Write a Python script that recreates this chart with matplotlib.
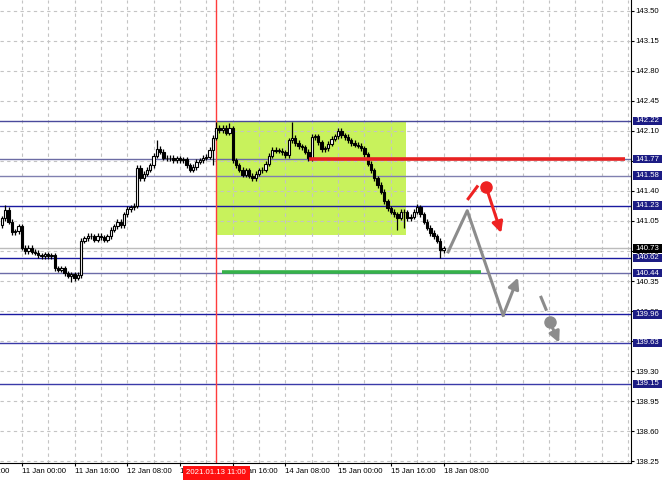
import matplotlib
matplotlib.use('Agg')
import matplotlib.pyplot as plt
import matplotlib.transforms as mtrans
from matplotlib.patches import Rectangle

plt.rcParams['font.family'] = ['Liberation Sans', 'DejaVu Sans']

# hourly bars, index 0 = 11 Jan 00:00
bars = list(range(-6, 129))
first_open = 141.00
closes = [
    141.08, 141.18, 141.04, 140.92, 140.93, 140.99, 140.74, 140.70, 140.74, 140.69,
    140.68, 140.65, 140.64, 140.66, 140.64, 140.65, 140.50, 140.48, 140.50, 140.44,
    140.41, 140.43, 140.39, 140.42, 140.82, 140.85, 140.88, 140.87, 140.83, 140.88,
    140.86, 140.83, 140.87, 140.95, 140.99, 141.04, 141.00, 141.13, 141.19, 141.21,
    141.23, 141.67, 141.55, 141.60, 141.65, 141.70, 141.81, 141.89, 141.86, 141.79,
    141.78, 141.79, 141.76, 141.78, 141.76, 141.77, 141.70, 141.65, 141.68, 141.74,
    141.76, 141.79, 141.80, 141.88, 142.02, 142.14, 142.11, 142.14, 142.08, 142.13,
    141.76, 141.70, 141.65, 141.59, 141.64, 141.58, 141.55, 141.60, 141.64, 141.65,
    141.72, 141.81, 141.88, 141.87, 141.87, 141.85, 141.82, 141.99, 142.02, 141.96,
    141.92, 141.91, 141.86, 141.78, 142.03, 142.04, 141.97, 141.89, 141.90, 141.95,
    142.01, 142.04, 142.10, 142.05, 142.03, 141.99, 141.96, 141.94, 141.93, 141.90,
    141.83, 141.72, 141.64, 141.55, 141.47, 141.39, 141.28, 141.20, 141.16, 141.13,
    141.09, 141.16, 141.15, 141.08, 141.10, 141.16, 141.21, 141.13, 141.04, 140.97,
    140.91, 140.87, 140.82, 140.71, 140.73,
]
high_spikes = {-5: 141.24, 41: 141.99, 59: 142.20, 63: 142.19, 82: 142.20, 96: 142.14, 120: 141.25}
low_spikes = {15: 140.34, 16: 140.35, 58: 141.70, 114: 140.95, 116: 140.97, 127: 140.62}

levels = [142.22, 141.77, 141.58, 141.23, 140.62, 140.44, 139.96, 139.63, 139.15]
level_colors = ['#4a4a9c', '#6c6ca4', '#8080b0', '#1a1aa0', '#1a1aa0',
                '#6c6ca8', '#1a1aa0', '#3a3aa8', '#3a3aa8']
current_price = 140.73

price_ticks = [143.50, 143.15, 142.80, 142.45, 142.10, 141.75, 141.40, 141.05,
               140.70, 140.35, 140.00, 139.65, 139.30, 138.95, 138.60, 138.25]
time_ticks = [0, 16, 32, 48, 64, 80, 96, 112, 128]
time_labels = ['11 Jan 00:00', '11 Jan 16:00', '12 Jan 08:00',
               '13 Jan 00:00', '13 Jan 16:00', '14 Jan 08:00', '15 Jan 00:00',
               '15 Jan 16:00', '18 Jan 08:00']
cut_tick = -16
cut_label = '8 Jan 08:00'
marker_bar = 59
marker_label = '2021.01.13 11:00'

# analysis drawings (bar index, price)
box_x = [59, 116.6]
box_y = [140.89, 142.22]
red_level_x = [87.3, 183.1]
red_level_y = 141.77
green_level_x = [60.8, 139.4]
green_level_y = 140.46
gray_path_x = [129.4, 135.2, 146.1, 150.6]
gray_path_y = [140.69, 141.17, 139.95, 140.39]
red_dash_x = [135.5, 138.2]
red_dash_y = [141.31, 141.45]
red_arrow_x = [140.9, 145.5]
red_arrow_y = [141.45, 140.91]
gray_dash_x = [157.6, 159.1]
gray_dash_y = [140.16, 140.02]
gray_arrow_x = [160.3, 163.1]
gray_arrow_y = [139.87, 139.63]

fig = plt.figure(figsize=(6.65, 4.82), dpi=100)
ax = fig.add_axes([0, 19 / 482, 631 / 665, 463 / 482])

# grid
for gx in range(-8, 186, 8):
    ax.axvline(gx, color='#c4c4c4', lw=0.8, ls=(0, (3, 3)), zorder=1)
for gy in price_ticks:
    ax.axhline(gy, color='#c4c4c4', lw=0.8, ls=(0, (3, 3)), zorder=1)

ax.add_patch(Rectangle((box_x[0], box_y[0]), box_x[1] - box_x[0], box_y[1] - box_y[0],
                       facecolor='#c8f25c', edgecolor='none', zorder=0.5))

ax.axhline(current_price, color='#bcbcbc', lw=1, zorder=1.5)
for lv, lc in zip(levels, level_colors):
    ax.axhline(lv, color=lc, lw=1, zorder=2)

ax.axvline(marker_bar, color='#ff3c3c', lw=1, zorder=2.5)

# candles
opens = [first_open] + closes[:-1]
for b, o, c in zip(bars, opens, closes):
    hi = high_spikes.get(b, max(o, c) + 0.03)
    lo = low_spikes.get(b, min(o, c) - 0.03)
    ax.vlines(b, lo, hi, color='black', lw=0.9, zorder=3)
    bottom = min(o, c)
    h = max(abs(c - o), 0.008)
    face = 'white' if c >= o else 'black'
    ax.bar(b, h, bottom=bottom, width=0.7, facecolor=face, edgecolor='black',
           linewidth=0.8, zorder=3.5)

# drawings
ax.plot(red_level_x, [red_level_y] * 2, color='#e82222', lw=2.6, zorder=4, solid_capstyle='butt')
ax.plot(green_level_x, [green_level_y] * 2, color='#36b24a', lw=2.6, zorder=4, solid_capstyle='butt')

arrow_kw = dict(arrowstyle='-|>', lw=2.2, mutation_scale=16, shrinkA=0, shrinkB=0)

ax.plot(gray_path_x[:3], gray_path_y[:3], color='#8c8c8c', lw=2.2, zorder=4)
ax.annotate('', xy=(gray_path_x[3], gray_path_y[3]), xytext=(gray_path_x[2], gray_path_y[2]),
            arrowprops=dict(color='#8c8c8c', **arrow_kw), zorder=4)

ax.plot(red_dash_x, red_dash_y, color='#ee2222', lw=2.2, zorder=4)
ax.plot(red_arrow_x[0], red_arrow_y[0], 'o', color='#ee2222', ms=8, zorder=4)
ax.annotate('', xy=(red_arrow_x[1], red_arrow_y[1]), xytext=(red_arrow_x[0], red_arrow_y[0]),
            arrowprops=dict(color='#ee2222', **arrow_kw), zorder=4)

ax.plot(gray_dash_x, gray_dash_y, color='#8c8c8c', lw=2.2, zorder=4)
ax.plot(gray_arrow_x[0], gray_arrow_y[0], 'o', color='#8c8c8c', ms=8, zorder=4)
ax.annotate('', xy=(gray_arrow_x[1], gray_arrow_y[1]), xytext=(gray_arrow_x[0], gray_arrow_y[0]),
            arrowprops=dict(color='#8c8c8c', **arrow_kw), zorder=4)

# axes styling
for s in ['top', 'left']:
    ax.spines[s].set_visible(False)
ax.spines['right'].set_color('black')
ax.spines['bottom'].set_color('black')
ax.yaxis.tick_right()
ax.set_yticks(price_ticks)
ax.set_yticklabels(['%.2f' % t for t in price_ticks])
ax.tick_params(axis='y', labelsize=5.6, length=2.2, pad=1.2, colors='black')
ax.set_xticks(time_ticks)
ax.set_xticklabels(time_labels, ha='left')
ax.tick_params(axis='x', labelsize=5.6, length=2.2, pad=1.5)
ax.set_xlim(-6.62, 184.9)
ax.set_ylim(138.227, 143.628)

# label of the tick just left of the view, cut by the figure edge
ax.annotate(cut_label, xy=(cut_tick, 0), xycoords=('data', 'axes fraction'),
            xytext=(0, -3.7), textcoords='offset points', ha='left', va='top',
            fontsize=5.6, annotation_clip=False)

# price labels on the right scale
trans = mtrans.blended_transform_factory(ax.transAxes, ax.transData)
half = 4.2 / 85.714
for lv in levels:
    ax.add_patch(Rectangle((1.0024, lv - half), 0.046, 2 * half, transform=trans,
                           facecolor='#1c1c84', edgecolor='none', clip_on=False, zorder=6))
    ax.text(1.0075, lv, '%.2f' % lv, transform=trans, color='white', fontsize=5.6,
            va='center', ha='left', clip_on=False, zorder=7)
ax.add_patch(Rectangle((1.0024, current_price - half), 0.046, 2 * half, transform=trans,
                       facecolor='black', edgecolor='none', clip_on=False, zorder=6))
ax.text(1.0075, current_price, '%.2f' % current_price, transform=trans, color='white',
        fontsize=5.6, va='center', ha='left', clip_on=False, zorder=7)

ax.annotate(marker_label, xy=(marker_bar, 0), xycoords=('data', 'axes fraction'),
            xytext=(0, -10), textcoords='offset pixels', ha='center', va='center',
            color='white', fontsize=5.6, zorder=8, annotation_clip=False,
            bbox=dict(boxstyle='square,pad=0.45', facecolor='#ff1010', edgecolor='none'))

fig.savefig('out.png', dpi=100)
